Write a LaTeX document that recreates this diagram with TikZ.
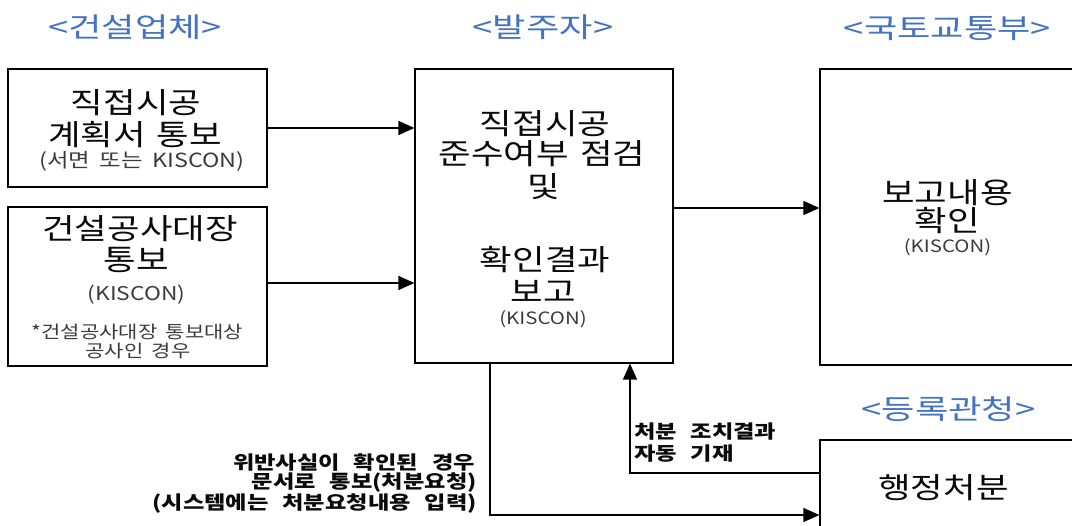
\documentclass[tikz,border=0pt]{standalone}
\usepackage{fontspec}
\usetikzlibrary{arrows.meta}
\newfontfamily\kr[FakeStretch=1.22,WordSpace=1.4]{Noto Sans CJK KR}
\newfontfamily\krt[FakeStretch=1.32]{Noto Sans CJK KR}
\newfontfamily\krs[FakeStretch=1.2,WordSpace=1.8]{Noto Sans CJK KR}
\newfontfamily\krb[FakeStretch=1.25,WordSpace=2.6]{Noto Sans CJK KR}
\definecolor{ttl}{RGB}{68,114,196}
\definecolor{sm}{RGB}{60,60,60}
\definecolor{txt}{RGB}{10,10,10}
\tikzset{
  box/.style={draw=black, line width=1.2pt, fill=white, inner sep=0pt},
  arr/.style={line width=1.2pt, -{Triangle[length=16pt,width=14pt]}},
  big/.style={inner sep=0pt, text=txt, font=\kr\fontsize{29}{30}\selectfont},
  small/.style={inner sep=0pt, text=sm, font=\krs\fontsize{17}{19}\selectfont},
  ttlf/.style={inner sep=0pt, text=ttl, font=\krt\fontsize{27.5}{30}\selectfont},
  bld/.style={inner sep=0pt, text=txt, font=\krb\bfseries\fontsize{18.6}{20}\selectfont},
}
\begin{document}
\begin{tikzpicture}[x=1pt,y=-1pt]
\useasboundingbox (0,0) rectangle (1072,526);
% titles
\node[ttlf] (t1) at (135,27.5) {<건설업체>};
\node[ttlf] (t2) at (543,27.5) {<발주자>};
\node[ttlf] (t3) at (947.5,28.5) {<국토교통부>};
\node[ttlf] (t4) at (948.5,409) {<등록관청>};
% boxes
\node[box, minimum width=259pt, minimum height=118pt] (b1) at (137.5,128) {};
\node[box, minimum width=259pt, minimum height=159pt] (b2) at (137.5,286.5) {};
\node[box, minimum width=258pt, minimum height=294pt] (c) at (544,216) {};
\node[box, minimum width=254pt, minimum height=296pt] (r) at (947,217) {};
\node[box, minimum width=254pt, minimum height=120pt] (rb) at (947,500) {};
% box 1 text
\node[big] (b1a) at (136,102.5) {직접시공};
\node[big] (b1b) at (135,135) {계획서 통보};
\node[small, font=\krs\fontsize{19.5}{21}\selectfont] (b1c) at (142,161) {(서면 또는 KISCON)};
% box 2 text
\node[big] (b2a) at (140,229) {건설공사대장};
\node[big] (b2b) at (136,260) {통보};
\node[small, font=\krs\fontsize{19}{21}\selectfont] (b2c) at (136.5,295) {(KISCON)};
\node[small, font=\krs\fontsize{17.5}{19}\selectfont] (b2d) at (137.5,331.5) {*건설공사대장 통보대상};
\node[small, font=\krs\fontsize{17.5}{19}\selectfont] (b2e) at (138,350.5) {공사인 경우};
% centre text
\node[big] (ca) at (545,123.5) {직접시공};
\node[big] (cb) at (542,153.5) {준수여부 점검};
\node[big] (cc) at (543.5,187) {및};
\node[big] (cd) at (545,259.5) {확인결과};
\node[big] (ce) at (543.5,291) {보고};
\node[small] (cf) at (543,319.5) {(KISCON)};
% right text
\node[big] (ra) at (947.5,192.5) {보고내용};
\node[big] (rb1) at (947.5,220.5) {확인};
\node[small] (rc) at (947.5,247) {(KISCON)};
\node[big] (rba) at (943.5,487.5) {행정처분};
% bold labels
\node[bld, anchor=east] (la) at (475,462) {위반사실이 확인된 경우};
\node[bld, anchor=east] (lb) at (477,483) {문서로 통보(처분요청)};
\node[bld, anchor=east] (lc) at (477,503.5) {(시스템에는 처분요청내용 입력)};
\node[bld, anchor=west] (ld) at (634,431.5) {처분 조치결과};
\node[bld, anchor=west] (le) at (634,453.5) {자동 기재};
% connectors
\draw[arr] (b1.east) -- (c.west |- b1.east);
\path ([yshift=3.5pt]b2.east) coordinate (b2o);
\draw[arr] (b2o) -- (b2o -| c.west);
\path ([yshift=8pt]c.east) coordinate (co);
\draw[arr] (co) -- (co -| r.west);
\draw[arr] ([xshift=-54pt]c.south) |- ([yshift=-15pt]rb.west);
\draw[arr] ([yshift=27pt]rb.west) -| ([xshift=86pt]c.south);
\end{tikzpicture}
\end{document}
